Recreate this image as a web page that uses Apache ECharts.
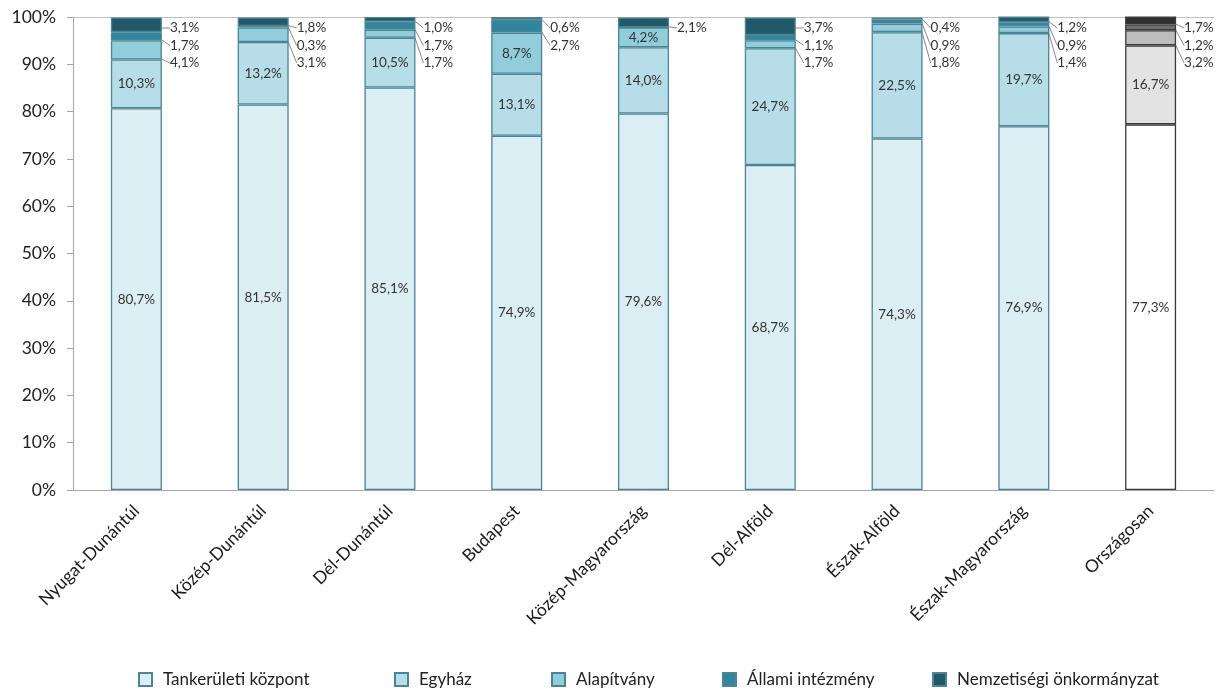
<!DOCTYPE html>
<html><head><meta charset="utf-8">
<script src="https://cdn.jsdelivr.net/npm/echarts@6/dist/echarts.min.js"></script>
<style>html,body{margin:0;padding:0;background:#fff}#c{width:1220px;height:691px}</style>
</head><body><div id="c"></div><script>
const categories = ['Nyugat-Dunántúl','Közép-Dunántúl','Dél-Dunántúl','Budapest','Közép-Magyarország','Dél-Alföld','Észak-Alföld','Észak-Magyarország','Országosan'];
const seriesNames = ['Tankerületi központ','Egyház','Alapítvány','Állami intézmény','Nemzetiségi önkormányzat'];
const tankeruleti = [80.7,81.5,85.1,74.9,79.6,68.7,74.3,76.9,77.3];
const egyhaz      = [10.3,13.2,10.5,13.1,14.0,24.7,22.5,19.7,16.7];
const alapitvany  = [4.1,3.1,1.7,8.7,4.2,1.7,1.8,1.4,3.2];
const allami      = [1.7,0.3,1.7,2.7,0,1.1,0.9,0.9,1.2];
const nemzetisegi = [3.1,1.8,1.0,0.6,2.1,3.7,0.4,1.2,1.7];
const seriesData = [tankeruleti, egyhaz, alapitvany, allami, nemzetisegi];

const tealColors = ['#daeef3','#b7dee8','#92cddc','#31859c','#215968'];
const grayColors = ['#ffffff','#e3e3e3','#bdbdbd','#6e6e6e','#2f2f2f'];
const legendLeft = [133, 389, 546, 717, 927];
const FONT = 'Lato, "Open Sans", sans-serif';

const chart = echarts.init(document.getElementById('c'));
let topPx = 17;

function fmt(v){ return v > 0 ? v.toFixed(1).replace('.', ',') + '%' : ''; }

function makeLayout(si){
  return function(p){
    const v = seriesData[si][p.dataIndex];
    if (v <= 0 || v >= 4.15) return {};
    const row = 4 - si;
    return {
      x: p.rect.x + p.rect.width + 8,
      y: topPx + 11 + row * 17.5,
      align: 'left',
      verticalAlign: 'middle'
    };
  };
}

function buildSeries(){
  return seriesNames.map((name, si) => ({
    name: name,
    type: 'bar',
    stack: 'total',
    xAxisIndex: 0,
    barWidth: 51,
    itemStyle: { color: tealColors[si], borderColor: '#4b8494', borderWidth: 1.3 },
    label: {
      show: true,
      position: 'inside',
      formatter: p => fmt(p.value),
      fontFamily: FONT,
      fontSize: 13.5,
      color: '#333333'
    },
    labelLine: { show: true, lineStyle: { color: '#8a8a8a', width: 1 } },
    labelLayout: makeLayout(si),
    data: seriesData[si].map((v, i) => i === categories.length - 1
      ? { value: v, itemStyle: { color: grayColors[si], borderColor: '#3a3a3a' } }
      : v)
  }));
}

const option = {
  animation: false,
  backgroundColor: '#fff',
  textStyle: { fontFamily: FONT },
  grid: { left: 73, right: 6, top: 17, bottom: 201, containLabel: false },
  legend: seriesNames.map((n, i) => ({
    data: [n],
    left: legendLeft[i],
    top: 666,
    itemWidth: 13,
    itemHeight: 13,
    icon: 'rect',
    textStyle: { fontFamily: FONT, fontSize: 17, color: '#222222', padding: [0, 0, 0, 6] },
    selectedMode: false
  })),
  xAxis: [{
    type: 'category',
    data: categories,
    axisLine: { lineStyle: { color: '#a6a6a6', width: 1 } },
    axisTick: { show: false },
    axisLabel: { rotate: 45, margin: 18, fontFamily: FONT, fontSize: 17.5, color: '#1a1a1a', interval: 0 }
  }, {
    type: 'category',
    data: categories,
    position: 'top',
    axisLine: { lineStyle: { color: '#bfbfbf', width: 1 } },
    axisTick: { show: false },
    axisLabel: { show: false }
  }],
  yAxis: {
    type: 'value',
    min: 0, max: 100, interval: 10,
    axisLine: { show: true, lineStyle: { color: '#a6a6a6' } },
    axisTick: { show: true, length: 6, lineStyle: { color: '#a6a6a6' } },
    splitLine: { show: false },
    axisLabel: { formatter: '{value}%', margin: 17, fontFamily: FONT, fontSize: 17.5, color: '#222222' }
  },
  series: buildSeries()
};
chart.setOption(option);
topPx = chart.convertToPixel({ yAxisIndex: 0 }, 100);
chart.setOption({ series: buildSeries() });
</script></body></html>
